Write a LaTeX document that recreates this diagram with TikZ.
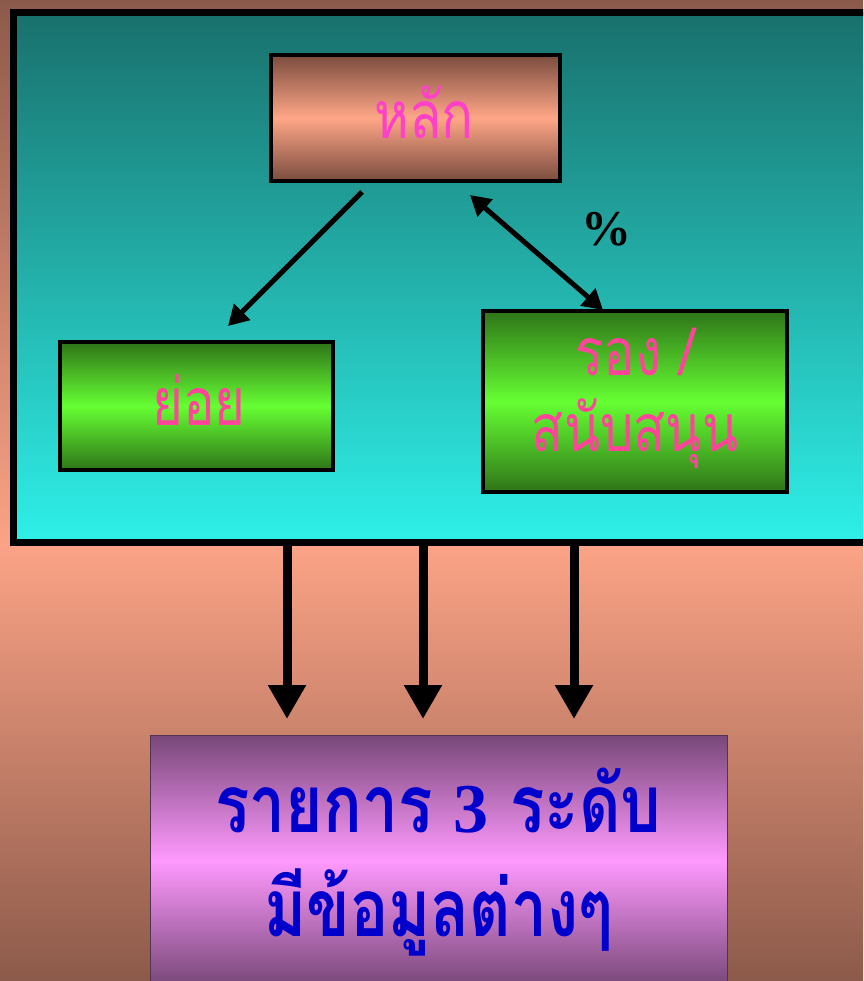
\documentclass[tikz,border=0pt]{standalone}
\usepackage{fontspec}
\usetikzlibrary{arrows.meta}
\newfontfamily\thaistretch[Script=Thai,FakeStretch=0.8]{Loma}
\setmainfont{Liberation Serif}
\definecolor{bgbrown}{HTML}{8C5A4A}
\definecolor{bgsalmon}{HTML}{FBA386}
\definecolor{tealtop}{HTML}{19706C}
\definecolor{tealbot}{HTML}{2EF0E8}
\definecolor{boxbrown}{HTML}{7A4C3E}
\definecolor{boxsalmon}{HTML}{FFA687}
\definecolor{gdark}{HTML}{2E7418}
\definecolor{glight}{HTML}{66FF33}
\definecolor{pdark}{HTML}{784878}
\definecolor{plight}{HTML}{FF99FF}
\definecolor{pinktxt}{HTML}{FF40C8}
\definecolor{pinktxt2}{HTML}{FF4499}
\definecolor{bluetxt}{HTML}{0000CC}
\tikzset{
  mainbox/.style={draw=black,line width=4pt,rectangle,inner sep=0pt,
    top color=boxbrown,bottom color=boxbrown,middle color=boxsalmon},
  greenbox/.style={draw=black,line width=4pt,rectangle,inner sep=0pt,
    top color=gdark,bottom color=gdark,middle color=glight},
  resbox/.style={draw=pdark!70!black,line width=0.6pt,rectangle,inner sep=0pt,
    top color=pdark,bottom color=pdark,middle color=plight},
  thaitxt/.style={font=\thaistretch\fontsize{66}{76}\selectfont},
  thinarr/.style={line width=5pt,-{Triangle[width=22pt,length=20pt]}},
  dblarr/.style={line width=5pt,{Triangle[width=22pt,length=20pt]}-{Triangle[width=22pt,length=20pt]}},
  downarr/.style={line width=9pt,-{Triangle[width=36pt,length=34pt]}},
}
\begin{document}
\begin{tikzpicture}[x=1pt,y=-1pt]
\useasboundingbox (0,0) rectangle (863,981);
\clip (0,0) rectangle (863,981);
% background
\fill[top color=bgbrown,bottom color=bgsalmon] (0,0) rectangle (863,545);
\fill[top color=bgsalmon,bottom color=bgbrown] (0,545) rectangle (863,981);
% frame
\node[draw=black,line width=7pt,rectangle,inner sep=0pt,
  top color=tealtop,bottom color=tealbot,
  minimum width=880pt,minimum height=530pt,anchor=north west] (frame) at (9.5,9) {};
% boxes
\node[mainbox,minimum width=289pt,minimum height=126pt] (main) at (415.5,118) {};
\node[thaitxt,text=pinktxt] (maintext) at (424,112) {หลัก};
\node[greenbox,minimum width=273pt,minimum height=128pt] (sub) at (196.5,406) {};
\node[thaitxt,text=pinktxt2] (subtext) at (199,400) {ย่อย};
\node[greenbox,minimum width=304pt,minimum height=181pt] (supp) at (635,401.5) {};
\node[thaitxt,text=pinktxt2,align=center] (supptext) at (635,398) {รอง /\\สนับสนุน};
\node[resbox,minimum width=577pt,minimum height=250pt,anchor=north west] (res) at (150,735) {};
\node[align=center,text=bluetxt,font=\thaistretch\bfseries\fontsize{80}{104}\selectfont] (restext) at (438.5,862)
  {รายการ {\rmfamily\bfseries\fontsize{70}{80}\selectfont 3} ระดับ\\มีข้อมูลต่างๆ};
% arrows
\coordinate (m1) at (362,192);
\coordinate (s1) at (228,326);
\coordinate (m2) at (470,195);
\coordinate (s2) at (603,310);
\draw[thinarr] (m1) -- (s1);
\draw[dblarr] (m2) -- (s2);
\node[font=\rmfamily\bfseries\fontsize{50}{54}\selectfont] (pct) at (606,229) {\%};
\foreach \x/\n in {287/a,423/b,574/c}{
  \coordinate (f\n) at (\x,541);
  \coordinate (r\n) at (\x,719);
  \draw[downarr] (f\n) -- (r\n);
}
\end{tikzpicture}
\end{document}
